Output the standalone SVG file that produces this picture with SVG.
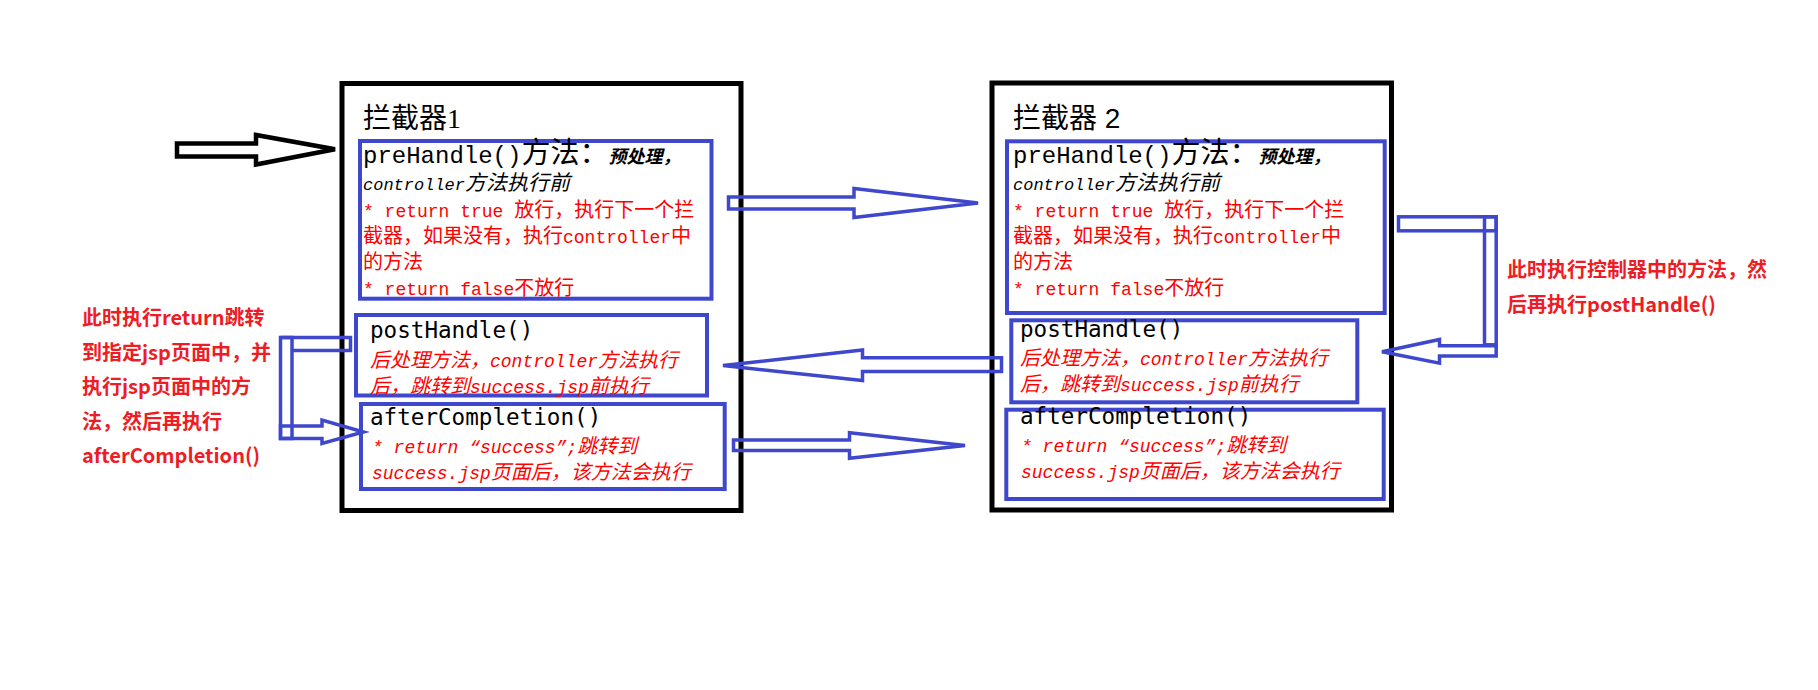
<svg xmlns="http://www.w3.org/2000/svg" width="1818" height="690" viewBox="0 0 1818 690">
<style>
.outer{fill:none;stroke:#000;stroke-width:5}
.sec{fill:none;stroke:#3f48cc;stroke-width:4}
.conn{fill:none;stroke:#3f48cc;stroke-width:3.5;stroke-linejoin:miter}
.big{fill:none;stroke:#000;stroke-width:4.5;stroke-linejoin:miter}
text{fill:#000}
.m{font-family:"Liberation Mono",monospace;font-size:18px}
.c{font-family:"Noto Sans CJK SC",sans-serif;font-size:20px}
.red{fill:#ff0000}
.it{font-style:italic}
.g{font-family:"DejaVu Sans Mono",monospace;font-size:22.6px}
.title{font-family:"Noto Sans CJK SC",sans-serif;font-size:28px}
.note{font-family:"Noto Sans CJK SC",sans-serif;font-size:20px;font-weight:bold;fill:#ee1c24}
</style>
<rect width="1818" height="690" fill="#fff"/>

<g id="interceptor1">
<rect class="outer" x="342" y="83.5" width="399" height="427"/>
<text class="title" x="363" y="128">拦截器<tspan style="font-family:'Liberation Serif',serif">1</tspan></text>
<g id="preHandle1">
<rect class="sec" x="360" y="141" width="351.5" height="157.7"/>
<text x="363" y="163"><tspan class="m" style="font-size:24px">preHandle()</tspan><tspan class="c" style="font-size:29px">方法：</tspan><tspan class="c it" style="font-size:18px;font-weight:bold">预处理，</tspan></text>
<text x="363" y="190" class="it"><tspan class="m" style="font-size:17px">controller</tspan><tspan class="c" style="font-size:21px">方法执行前</tspan></text>
<text x="363" y="216.5" class="red"><tspan class="m">* return true </tspan><tspan class="c">放行，执行下一个拦</tspan></text>
<text x="363" y="242.5" class="red"><tspan class="c">截器，如果没有，执行</tspan><tspan class="m">controller</tspan><tspan class="c">中</tspan></text>
<text x="363" y="268.7" class="red"><tspan class="c">的方法</tspan></text>
<text x="363" y="294.7" class="red"><tspan class="m">* return false</tspan><tspan class="c">不放行</tspan></text>
</g>
<g id="postHandle1">
<rect class="sec" x="356" y="315" width="351" height="80.5"/>
<text x="370" y="338" class="g">postHandle()</text>
<text x="370" y="366.7" class="red it"><tspan class="c">后处理方法，</tspan><tspan class="m">controller</tspan><tspan class="c">方法执行</tspan></text>
<text x="370" y="392.7" class="red it"><tspan class="c">后，跳转到</tspan><tspan class="m">success.jsp</tspan><tspan class="c">前执行</tspan></text>
</g>
<g id="afterCompletion1">
<rect class="sec" x="361" y="404" width="363.7" height="85"/>
<text x="370" y="425" class="g">afterCompletion()</text>
<text x="372" y="453" class="red it"><tspan class="m">* return “success”;</tspan><tspan class="c">跳转到</tspan></text>
<text x="372" y="479" class="red it"><tspan class="m">success.jsp</tspan><tspan class="c">页面后，该方法会执行</tspan></text>
</g>
</g>

<g id="interceptor2">
<rect class="outer" x="992" y="83" width="399.5" height="427"/>
<text class="title" x="1013" y="128">拦截器<tspan style="font-family:'Liberation Sans',sans-serif"> 2</tspan></text>
<g id="preHandle2">
<rect class="sec" x="1007" y="141.3" width="377.7" height="171.7"/>
<text x="1013" y="163"><tspan class="m" style="font-size:24px">preHandle()</tspan><tspan class="c" style="font-size:29px">方法：</tspan><tspan class="c it" style="font-size:18px;font-weight:bold">预处理，</tspan></text>
<text x="1013" y="190" class="it"><tspan class="m" style="font-size:17px">controller</tspan><tspan class="c" style="font-size:21px">方法执行前</tspan></text>
<text x="1013" y="216.5" class="red"><tspan class="m">* return true </tspan><tspan class="c">放行，执行下一个拦</tspan></text>
<text x="1013" y="242.5" class="red"><tspan class="c">截器，如果没有，执行</tspan><tspan class="m">controller</tspan><tspan class="c">中</tspan></text>
<text x="1013" y="268.7" class="red"><tspan class="c">的方法</tspan></text>
<text x="1013" y="294.7" class="red"><tspan class="m">* return false</tspan><tspan class="c">不放行</tspan></text>
</g>
<g id="postHandle2">
<rect class="sec" x="1011.3" y="320.3" width="346" height="82"/>
<text x="1020" y="336.7" class="g">postHandle()</text>
<text x="1020" y="365" class="red it"><tspan class="c">后处理方法，</tspan><tspan class="m">controller</tspan><tspan class="c">方法执行</tspan></text>
<text x="1020" y="391" class="red it"><tspan class="c">后，跳转到</tspan><tspan class="m">success.jsp</tspan><tspan class="c">前执行</tspan></text>
</g>
<g id="afterCompletion2">
<rect class="sec" x="1006.3" y="409.7" width="377.4" height="89.3"/>
<text x="1020" y="424" class="g">afterCompletion()</text>
<text x="1021" y="451.7" class="red it"><tspan class="m">* return “success”;</tspan><tspan class="c">跳转到</tspan></text>
<text x="1021" y="477.7" class="red it"><tspan class="m">success.jsp</tspan><tspan class="c">页面后，该方法会执行</tspan></text>
</g>
</g>

<g id="note-left">
<text class="note" x="82" y="325">此时执行return跳转</text>
<text class="note" x="82" y="359.5">到指定jsp页面中，并</text>
<text class="note" x="82" y="394">执行jsp页面中的方</text>
<text class="note" x="82" y="428.5">法，然后再执行</text>
<text class="note" x="82" y="463">afterCompletion()</text>
</g>
<g id="note-right">
<text class="note" x="1507" y="277.3">此时执行控制器中的方法，然</text>
<text class="note" x="1507" y="312.3">后再执行postHandle()</text>
</g>

<g id="connectors">
<polygon class="big" points="177,143.5 256,143.5 256,135 335,149.3 256,164.5 256,156.5 177,156.5"/>
<polygon class="conn" points="728.5,197 854,197 854,188.5 978,203 854,217.5 854,209 728.5,209"/>
<polygon class="conn" points="1001.5,357.8 862.5,357.8 862.5,350 723,365.5 862.5,380.5 862.5,371.5 1001.5,371.5"/>
<polygon class="conn" points="733.5,440 849.5,440 849.5,432.8 965,445.5 849.5,458.2 849.5,450.5 733.5,450.5"/>
<rect class="conn" x="280.5" y="337.5" width="11.5" height="101"/>
<polyline class="conn" points="292,350.5 350.5,350.5 350.5,337.5 280.5,337.5"/>
<polygon class="conn" points="280.5,426 322,426 322,420 363.5,432 322,443.5 322,438.5 280.5,438.5"/>
<rect class="conn" x="1398.5" y="216.8" width="97.7" height="14"/>
<rect class="conn" x="1484.5" y="216.8" width="11.7" height="128"/>
<polygon class="conn" points="1496.2,345.8 1439.5,345.8 1439.5,339.5 1382,351.7 1439.5,363.2 1439.5,356 1496.2,356"/>
</g>
</svg>
